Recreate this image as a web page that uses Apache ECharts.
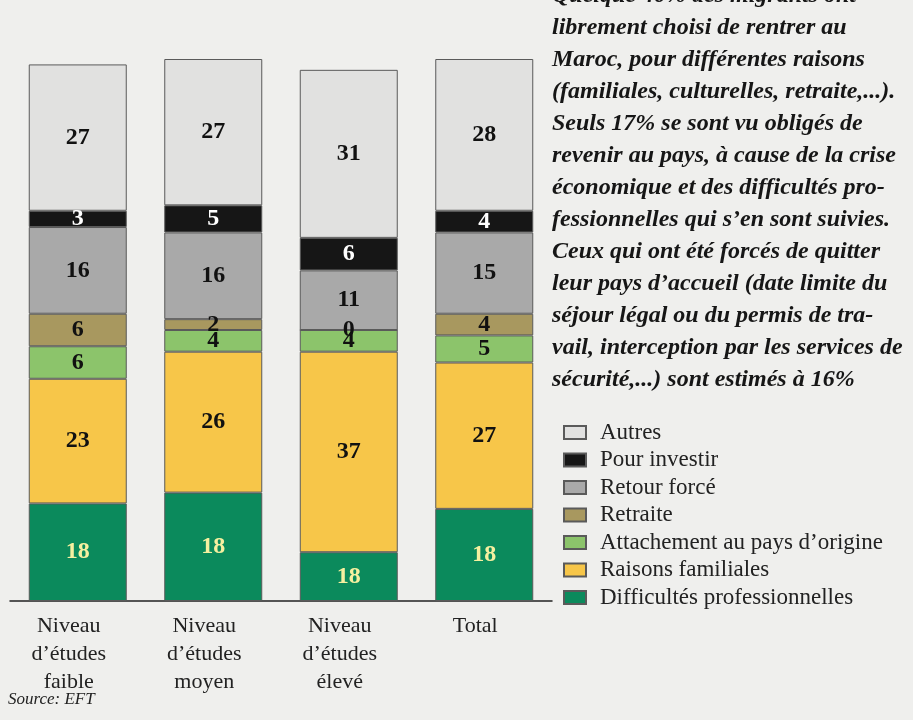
<!DOCTYPE html>
<html>
<head>
<meta charset="utf-8">
<script src="https://cdn.jsdelivr.net/npm/echarts@6/dist/echarts.min.js"></script>
<style>
html,body{margin:0;padding:0;background:#efefed;}
#c{width:913px;height:720px;}
</style>
</head>
<body>
<div id="c"></div>
<script>
// ---- data ----
const categories = ['Niveau\nd\u2019études\nfaible', 'Niveau\nd\u2019études\nmoyen', 'Niveau\nd\u2019études\nélevé', 'Total'];
const seriesNames = ['Difficultés professionnelles', 'Raisons familiales', 'Attachement au pays d\u2019origine', 'Retraite', 'Retour forcé', 'Pour investir', 'Autres'];
// drawn segment heights (bottom to top)
const difficultes = [18, 20, 9, 17];
const raisons = [23, 26, 37, 27];
const attachement = [6, 4, 4, 5];
const retraite = [6, 2, 0, 4];
const retour = [16, 16, 11, 15];
const investir = [3, 5, 6, 4];
const autres = [27, 27, 31, 28];
// printed labels
const difficultesLabels = [18, 18, 18, 18];
const legendOrder = ['Autres', 'Pour investir', 'Retour forcé', 'Retraite', 'Attachement au pays d\u2019origine', 'Raisons familiales', 'Difficultés professionnelles'];
const bodyText = [
  'Quelque 40% des migrants ont',
  'librement choisi de rentrer au',
  'Maroc, pour différentes raisons',
  '(familiales, culturelles, retraite,...).',
  'Seuls 17% se sont vu obligés de',
  'revenir au pays, à cause de la crise',
  'économique et des difficultés pro-',
  'fessionnelles qui s\u2019en sont suivies.',
  'Ceux qui ont été forcés de quitter',
  'leur pays d\u2019accueil (date limite du',
  'séjour légal ou du permis de tra-',
  'vail, interception par les services de',
  'sécurité,...) sont estimés à 16%'
];

const values = [difficultes, raisons, attachement, retraite, retour, investir, autres];
const labelSets = [difficultesLabels, raisons, attachement, retraite, retour, investir, autres];
const colors = ['#0b8a5c', '#f7c649', '#8cc46b', '#a8985f', '#a9a9a9', '#161616', '#e1e1e0'];
const labelColors = ['#f6f0a0', '#111', '#111', '#111', '#111', '#ffffff', '#111'];

const serif = '"Liberation Serif", "DejaVu Serif", serif';

const series = seriesNames.map((name, i) => ({
  name: name,
  type: 'bar',
  stack: 'all',
  barWidth: 98,
  data: values[i],
  itemStyle: { color: colors[i], borderColor: '#5a5a5a', borderWidth: 1 },
  label: {
    show: true,
    position: 'inside',
    formatter: p => String(labelSets[i][p.dataIndex]),
    fontFamily: serif,
    fontWeight: 'bold',
    fontSize: 24,
    color: labelColors[i]
  },
  emphasis: { disabled: true },
  silent: true
}));

const chart = echarts.init(document.getElementById('c'));
chart.setOption({
  backgroundColor: '#efefed',
  animation: false,
  grid: { left: 10, width: 542, top: 59, bottom: 119 },
  xAxis: {
    type: 'category',
    data: categories,
    axisLine: { lineStyle: { color: '#222', width: 1.5 } },
    axisTick: { show: false },
    axisLabel: {
      margin: 11,
      fontFamily: serif,
      fontSize: 22,
      lineHeight: 28,
      color: '#222',
      padding: [0, 18, 0, 0]
    }
  },
  yAxis: { type: 'value', min: 0, max: 100, show: false },
  legend: {
    orient: 'vertical',
    left: 558,
    top: 416,
    data: legendOrder,
    icon: 'rect',
    itemWidth: 22,
    itemHeight: 13,
    itemGap: 4.5,
    selectedMode: false,
    textStyle: { fontFamily: serif, fontSize: 23, lineHeight: 20, color: '#222', padding: [0, 0, 0, 9] }
  },
  graphic: [
    {
      type: 'text',
      left: 552,
      top: -20,
      style: {
        text: bodyText.join('\n'),
        font: 'italic bold 24px ' + serif,
        lineHeight: 32,
        fill: '#161616'
      }
    },
    {
      type: 'text',
      left: 8,
      top: 691,
      style: { text: 'Source: EFT', font: 'italic 17px ' + serif, fill: '#222' }
    }
  ],
  series: series
});
</script>
</body>
</html>
